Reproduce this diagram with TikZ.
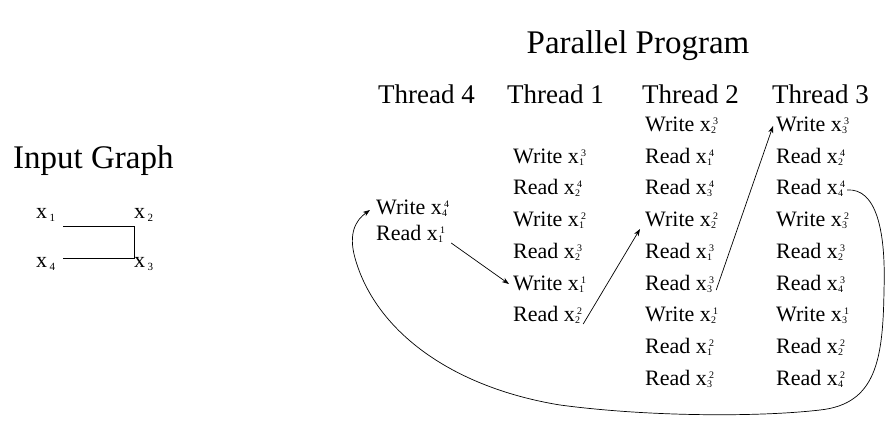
\documentclass[tikz,border=0pt]{standalone}
\usepackage{fontspec}
\IfFontExistsTF{LiberationSerif-Regular.ttf}
  {\setmainfont{LiberationSerif}[Extension=.ttf, UprightFont=*-Regular, BoldFont=*-Bold, ItalicFont=*-Italic, BoldItalicFont=*-BoldItalic]}
  {\setmainfont{Liberation Serif}}
\usetikzlibrary{arrows.meta}

% variable with stacked instance (subscript) and thread (superscript) indices
\newcommand\xvar[2]{x\kern0.3pt\rlap{\raisebox{-2.5pt}{\fontsize{10}{10}\selectfont #1}}\kern1.8pt\raisebox{6.5pt}{\fontsize{10}{10}\selectfont #2}}
% vertex label of the input graph
\newcommand\vtx[1]{x\kern2.5pt\raisebox{-3.5pt}{\fontsize{11}{11}\selectfont #1}}

\begin{document}
\begin{tikzpicture}[x=1pt,y=-1pt,
  title/.style={font=\fontsize{33}{33}\selectfont, inner sep=0pt, anchor=base},
  head/.style={font=\fontsize{27}{27}\selectfont, inner sep=0pt, anchor=base west},
  op/.style={font=\fontsize{22}{22}\selectfont, inner sep=0pt, anchor=base west},
  vlabel/.style={font=\fontsize{22}{22}\selectfont, inner sep=0pt, anchor=base west},
  gedge/.style={line width=0.9pt},
  dep/.style={line width=0.7pt, -{Stealth[length=7pt,width=5pt,inset=2pt]}}]
\useasboundingbox (0,0) rectangle (886,423);

% titles
\node[title] (pp) at (638,53) {Parallel Program};
\node[title, anchor=base west] (ig) at (13,168) {Input Graph};

% input graph
\node[vlabel] (v1) at (36,218) {\vtx{1}};
\node[vlabel] (v2) at (134,218) {\vtx{2}};
\node[vlabel] (v4) at (36,267) {\vtx{4}};
\node[vlabel] (v3) at (134,267) {\vtx{3}};
\coordinate (c1) at (63,226);
\coordinate (c2) at (134,226);
\coordinate (c3) at (134,258);
\coordinate (c4) at (63,258);
\draw[gedge] (c1) -- (c2) -- (c3) -- (c4);

% thread headers
\node[head] (h4) at (378,103) {Thread 4};
\node[head] (h1) at (507,103) {Thread 1};
\node[head] (h2) at (642,103) {Thread 2};
\node[head] (h3) at (772,103) {Thread 3};

% thread 4
\node[op] (t4a) at (376,214) {Write \xvar{4}{4}};
\node[op] (t4b) at (376,240) {Read \xvar{1}{1}};

% thread 1
\node[op] (t1a) at (513,163) {Write \xvar{1}{3}};
\node[op] (t1b) at (513,194) {Read \xvar{2}{4}};
\node[op] (t1c) at (513,226) {Write \xvar{1}{2}};
\node[op] (t1d) at (513,258) {Read \xvar{2}{3}};
\node[op] (t1e) at (513,290) {Write \xvar{1}{1}};
\node[op] (t1f) at (513,321) {Read \xvar{2}{2}};

% thread 2
\node[op] (t2a) at (645,131) {Write \xvar{2}{3}};
\node[op] (t2b) at (645,163) {Read \xvar{1}{4}};
\node[op] (t2c) at (645,194) {Read \xvar{3}{4}};
\node[op] (t2d) at (645,226) {Write \xvar{2}{2}};
\node[op] (t2e) at (645,258) {Read \xvar{1}{3}};
\node[op] (t2f) at (645,290) {Read \xvar{3}{3}};
\node[op] (t2g) at (645,321) {Write \xvar{2}{1}};
\node[op] (t2h) at (645,353) {Read \xvar{1}{2}};
\node[op] (t2i) at (645,385) {Read \xvar{3}{2}};

% thread 3
\node[op] (t3a) at (776,131) {Write \xvar{3}{3}};
\node[op] (t3b) at (776,163) {Read \xvar{2}{4}};
\node[op] (t3c) at (776,194) {Read \xvar{4}{4}};
\node[op] (t3d) at (776,226) {Write \xvar{3}{2}};
\node[op] (t3e) at (776,258) {Read \xvar{2}{3}};
\node[op] (t3f) at (776,290) {Read \xvar{4}{3}};
\node[op] (t3g) at (776,321) {Write \xvar{3}{1}};
\node[op] (t3h) at (776,353) {Read \xvar{2}{2}};
\node[op] (t3i) at (776,385) {Read \xvar{4}{2}};

% dependencies between threads
\draw[dep] ([shift={(6,3)}]t4b.base east) -- ([shift={(-4,-6)}]t1e.base west);
\draw[dep] ([shift={(1,3)}]t1f.base east) -- ([shift={(-5,3)}]t2d.base west);
\draw[dep] ([shift={(2,0)}]t2f.base east) -- ([shift={(-3,-5)}]t3a.base west);
\draw[dep] ([shift={(2,-4)}]t3c.base east)
  .. controls (876,188) and (886,230) .. (884,290)
  .. controls (883,360) and (876,404) .. (820,410)
  .. controls (760,417) and (650,417) .. (560,405)
  .. controls (450,387) and (375,330) .. (355,258)
  .. controls (348,233) and (356,220) .. ([shift={(-6,-4)}]t4a.base west);
\end{tikzpicture}
\end{document}
